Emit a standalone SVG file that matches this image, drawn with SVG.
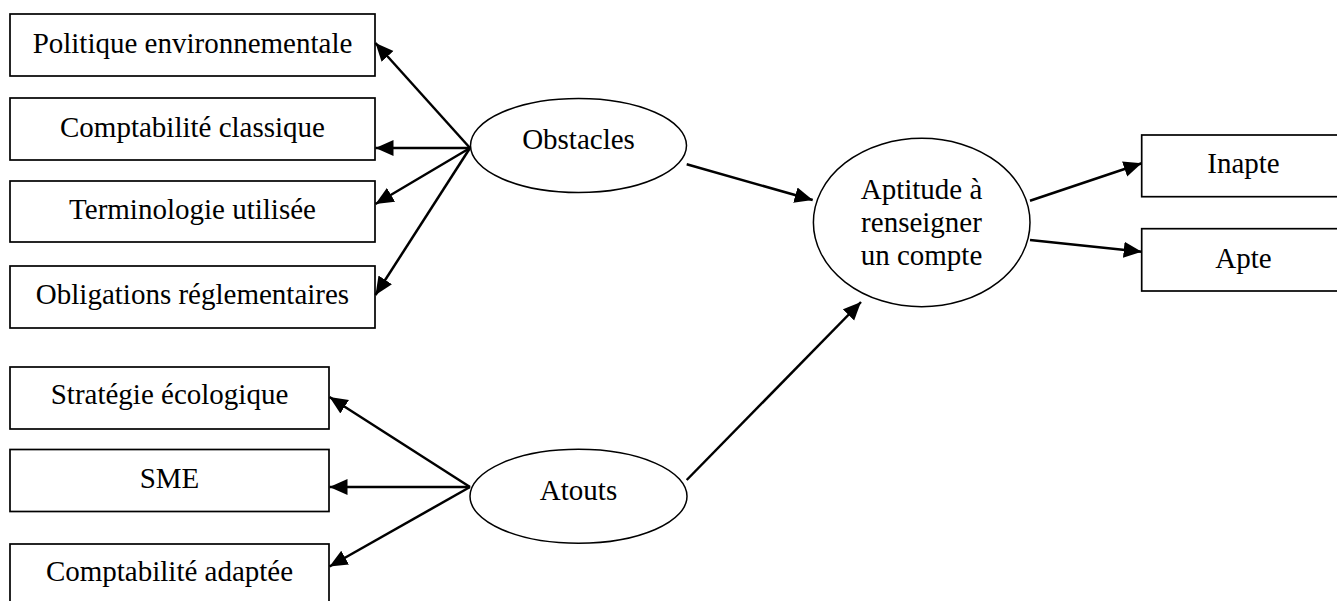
<svg xmlns="http://www.w3.org/2000/svg" width="1337" height="601" viewBox="0 0 1337 601">
<style>
  .box { fill: #fff; stroke: #000; stroke-width: 1.7; }
  .ell { fill: #fff; stroke: #000; stroke-width: 1.5; }
  .lbl { font-family: "Liberation Serif", "Times New Roman", serif; font-size: 29px; fill: #000; text-anchor: middle; }
  .conn { stroke: #000; stroke-width: 2.5; fill: none; marker-end: url(#arr); }
</style>
<defs>
  <marker id="arr" markerUnits="userSpaceOnUse" markerWidth="19" markerHeight="17" refX="18" refY="8" orient="auto" viewBox="0 0 19 16">
    <path d="M0,0 L18,8 L0,16 Z" fill="#000"/>
  </marker>
</defs>
<rect width="1337" height="601" fill="#fff"/>

<g id="n-politique">
  <rect class="box" x="10" y="14" width="365" height="62"/>
  <text class="lbl" x="192.5" y="53">Politique environnementale</text>
</g>
<g id="n-comptaclassique">
  <rect class="box" x="10" y="98" width="365" height="62"/>
  <text class="lbl" x="192.5" y="137">Comptabilité classique</text>
</g>
<g id="n-terminologie">
  <rect class="box" x="10" y="181" width="365" height="61"/>
  <text class="lbl" x="192.5" y="218.5">Terminologie utilisée</text>
</g>
<g id="n-obligations">
  <rect class="box" x="10" y="266" width="365" height="62"/>
  <text class="lbl" x="192.5" y="304">Obligations réglementaires</text>
</g>
<g id="n-strategie">
  <rect class="box" x="10" y="367" width="319" height="62"/>
  <text class="lbl" x="169.5" y="404">Stratégie écologique</text>
</g>
<g id="n-sme">
  <rect class="box" x="10" y="449.5" width="319" height="62"/>
  <text class="lbl" x="169.5" y="488">SME</text>
</g>
<g id="n-comptaadaptee">
  <rect class="box" x="10" y="544" width="319" height="62"/>
  <text class="lbl" x="169.5" y="581">Comptabilité adaptée</text>
</g>
<g id="n-obstacles">
  <ellipse class="ell" cx="578.5" cy="145.5" rx="108" ry="47"/>
  <text class="lbl" x="578.5" y="148.5">Obstacles</text>
</g>
<g id="n-atouts">
  <ellipse class="ell" cx="578.5" cy="496.3" rx="108.5" ry="47"/>
  <text class="lbl" x="578.5" y="499.5">Atouts</text>
</g>
<g id="n-aptitude">
  <ellipse class="ell" cx="921.7" cy="222.5" rx="108.3" ry="84.2"/>
  <text class="lbl" x="921.5" y="198.5">Aptitude à</text>
  <text class="lbl" x="921.5" y="231.5">renseigner</text>
  <text class="lbl" x="921.5" y="265">un compte</text>
</g>
<g id="n-inapte">
  <rect class="box" x="1141.7" y="135" width="205" height="61.7"/>
  <text class="lbl" x="1243.5" y="173.3">Inapte</text>
</g>
<g id="n-apte">
  <rect class="box" x="1141.7" y="228.7" width="205" height="62.3"/>
  <text class="lbl" x="1243.5" y="268.3">Apte</text>
</g>

<g id="connectors">
  <line class="conn" x1="470" y1="148" x2="375.5" y2="43"/>
  <line class="conn" x1="470" y1="148" x2="375.5" y2="148"/>
  <line class="conn" x1="470" y1="148" x2="375.5" y2="204"/>
  <line class="conn" x1="470" y1="148" x2="375.5" y2="295"/>
  <line class="conn" x1="470" y1="487" x2="329.5" y2="397"/>
  <line class="conn" x1="470" y1="487" x2="329.5" y2="487"/>
  <line class="conn" x1="470" y1="487" x2="329.5" y2="566.5"/>
  <line class="conn" x1="686.7" y1="164.3" x2="812.7" y2="200"/>
  <line class="conn" x1="686.7" y1="480" x2="861" y2="302"/>
  <line class="conn" x1="1030" y1="200.7" x2="1141.7" y2="163.3"/>
  <line class="conn" x1="1030" y1="240" x2="1141.7" y2="251.7"/>
</g>
</svg>
